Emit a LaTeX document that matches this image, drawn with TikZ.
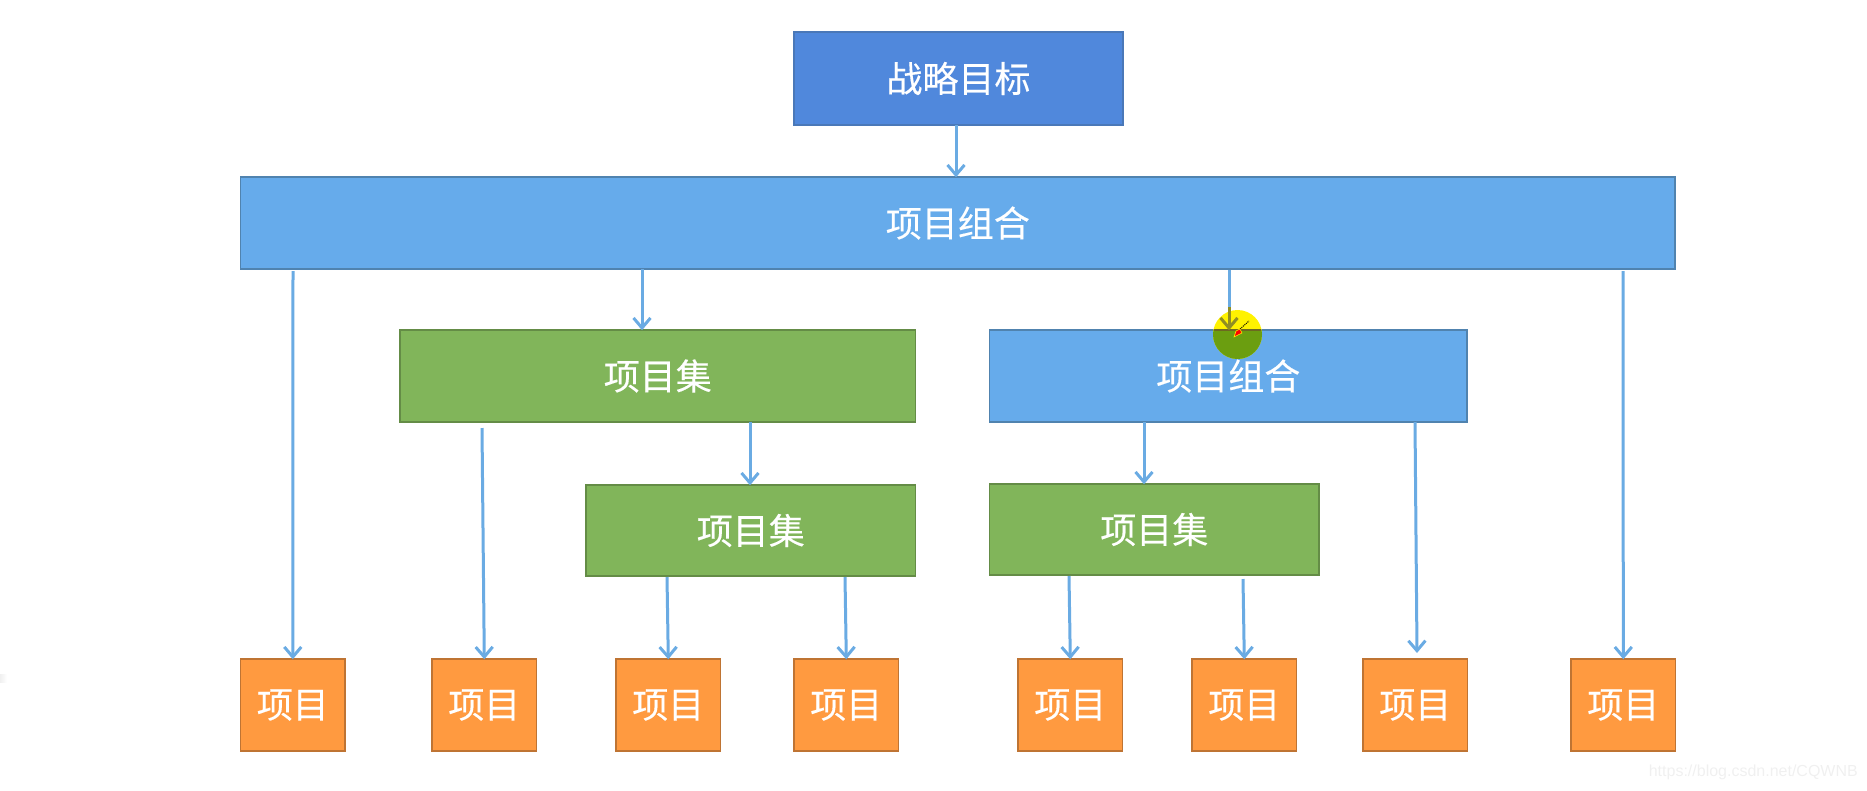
\documentclass[tikz,border=0pt]{standalone}
\usepackage{fontspec}
\setmainfont{Noto Sans CJK SC}[FakeBold=0.3]
\newfontfamily\markfont{Liberation Sans}
\usetikzlibrary{arrows.meta}
\definecolor{goalfill}{HTML}{5088DC}
\definecolor{goalline}{HTML}{4A78B8}
\definecolor{portfill}{HTML}{66ABEB}
\definecolor{portline}{HTML}{5083AF}
\definecolor{setfill}{HTML}{81B55A}
\definecolor{setline}{HTML}{648C46}
\definecolor{itemfill}{HTML}{FF9A40}
\definecolor{itemline}{HTML}{BF7433}
\definecolor{linkblue}{HTML}{6AABE3}
\definecolor{olivemark}{HTML}{6B9E10}
\tikzset{
	basebox/.style={draw,line width=1.8pt,inner sep=0pt,outer sep=0pt,text=white,font=\fontsize{36}{36}\selectfont},
	goalbox/.style={basebox,fill=goalfill,draw=goalline},
	portbox/.style={basebox,fill=portfill,draw=portline},
	setbox/.style={basebox,fill=setfill,draw=setline},
	itembox/.style={basebox,fill=itemfill,draw=itemline,minimum width=104.5,minimum height=91.5},
	link/.style={-{Straight Barb[length=10pt,width=17pt,line width=3pt]},linkblue,line width=3pt}
}
\begin{document}
\begin{tikzpicture}[x=1pt,y=-1pt]
	\useasboundingbox (0,0) rectangle (1867,790);
	\shade[left color=gray!12,right color=white] (0,674) rectangle (7,682);
	% boxes
	\node[goalbox,minimum width=328.5,minimum height=92.5] (goal) at (958.5,78.5) {战略目标};
	\node[portbox,minimum width=1434.5,minimum height=91.5] (portMain) at (957.8,223) {项目组合};
	\node[setbox,minimum width=515.5,minimum height=91.5] (setA) at (657.8,376) {项目集};
	\node[portbox,minimum width=477.5,minimum height=91.5] (portSub) at (1228.3,376) {项目组合};
	\node[setbox,minimum width=329.5,minimum height=90.5] (setB) at (750.8,530.5) {项目集};
	\node[setbox,minimum width=329.5,minimum height=90.5] (setC) at (1154.3,529.5) {项目集};
	\foreach \name/\x in {itemA/292.8,itemB/484.3,itemC/668.3,itemD/846.3,itemE/1070.3,itemF/1244.3,itemG/1415.3,itemH/1623.3}
		\node[itembox] (\name) at (\x,705) {项目};
	% arrow starts and the one free end
	\coordinate (startGoal) at (956,125);
	\coordinate (startA) at (293,271);
	\coordinate (startB) at (482,428);
	\coordinate (startC) at (667,577);
	\coordinate (startD) at (845,577);
	\coordinate (startE) at (1069,576);
	\coordinate (startF) at (1243,579);
	\coordinate (startG) at (1415,422);
	\coordinate (startH) at (1623,271);
	\coordinate (startSetA) at (642,269);
	\coordinate (startSetB) at (750,422);
	\coordinate (startSetC) at (1144,422);
	\coordinate (startSub) at (1229,270);
	\coordinate (endG) at (1417,653);
	% highlight under the arrow
	\fill[yellow] (1237.5,334.5) circle (24.5);
	\begin{scope}
		\clip (portSub.north west) rectangle (portSub.south east);
		\fill[olivemark] (1237.5,334.5) circle (24.5);
	\end{scope}
	\draw[olive!70!black,line width=1.8pt] (1214,330.3) -- (1261,330.3);
	% arrows
	\draw[link] (startGoal) -- (startGoal |- portMain.north);
	\draw[link] (startSetA) -- (startSetA |- setA.north);
	\draw[link] (startSetB) -- (startSetB |- setB.north);
	\draw[link] (startSetC) -- (startSetC |- setC.north);
	\draw[link,olive!80!linkblue] (startSub) ++(0,36) -- (startSub |- portSub.north);
	\draw[link,-] (startSub) -- ++(0,37);
	\draw[link] (startA) -- (itemA.north);
	\draw[link] (startB) -- (itemB.north);
	\draw[link] (startC) -- (itemC.north);
	\draw[link] (startD) -- (itemD.north);
	\draw[link] (startE) -- (itemE.north);
	\draw[link] (startF) -- (itemF.north);
	\draw[link] (startG) -- (endG);
	\draw[link] (startH) -- (itemH.north);
	% pencil cursor
	\draw[black,line width=1pt,densely dotted] (1240,329) -- (1249,321);
	\fill[red,draw=yellow,line width=.6pt] (1234,337) -- (1236,331) -- (1240,329) -- (1242,333) -- cycle;
	% faint site mark
	\node[text=gray!12,font=\markfont\fontsize{16}{16}\selectfont,anchor=east,inner sep=0pt] (siteMark) at (1858,772) {https://blog.csdn.net/CQWNB};
\end{tikzpicture}
\end{document}
